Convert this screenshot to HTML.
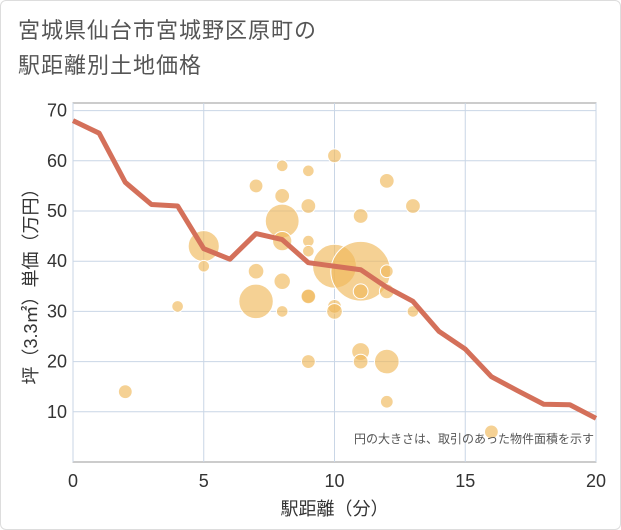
<!DOCTYPE html>
<html><head><meta charset="utf-8"><style>
html,body{margin:0;padding:0;background:#fff;}
body{width:621px;height:530px;overflow:hidden;font-family:"Liberation Sans","Noto Sans CJK JP",sans-serif;}
#frame{position:absolute;left:0;top:0;width:619px;height:528px;border:1px solid #ddd;border-radius:6px;}
#title{position:absolute;left:18px;top:13px;font-size:22px;line-height:35px;color:#555;letter-spacing:1px;}
</style></head><body>
<div id="frame"></div>
<div id="title">宮城県仙台市宮城野区原町の<br>駅距離別土地価格</div>
<svg id="chart" width="621" height="530" style="position:absolute;left:0;top:0"></svg>
<script>
const xTicks=[0,5,10,15,20];
const yTicks=[10,20,30,40,50,60,70];
const bubbleX=[2,4,5,5,7,7,7,8,8,8,8,8,8,9,9,9,9,9,9,9,10,10,10,10,11,11,11,11,11,12,12,12,12,12,13,13,16];
const bubbleY=[14,31,43,39,55,38,32,59,53,48,44,36,30,58,51,44,42,33,33,20,61,39,31,30,49,38,34,22,20,56,38,34,20,12,51,30,6];
const bubbleArea=[5,3,38,3,5,7,48,3,6,46,12,8,3,3,6,3,3,5,6,5,5,82,5,7,6,160,6,10,6,6,4,6,22,4,6,3,5];
const lineX=[0,1,2,3,4,5,6,7,8,9,10,11,12,13,14,15,16,17,18,19,20];
const lineY=[68,65.5,55.7,51.3,51,42.5,40.4,45.5,44.3,39.7,39,38.3,34.8,32,26,22.5,17,14.2,11.5,11.4,8.7];
const L=73,R=596,T=103,B=462;
const sx=v=>L+(v-0)/20*(R-L);
const sy=v=>462-(v)*5.02;
const NS="http://www.w3.org/2000/svg";
const svg=document.getElementById('chart');
function mk(t,a,p){const e=document.createElementNS(NS,t);for(const k in a)e.setAttribute(k,a[k]);(p||svg).appendChild(e);return e;}
const bg=mk('rect',{x:L,y:T,width:R-L,height:B-T,fill:'#fff',stroke:'#999','stroke-width':1});


xTicks.forEach(v=>{
 const g=mk('line',{x1:sx(v),x2:sx(v),y1:T,y2:B,stroke:'#c9d6e6','stroke-width':1});
 
 
 const t=mk('text',{x:sx(v),y:487,'text-anchor':'middle','font-size':18,fill:'#333'});
 t.textContent=v;
 
 
});
yTicks.forEach(v=>{
 const g=mk('line',{x1:L,x2:R,y1:sy(v),y2:sy(v),stroke:'#c9d6e6','stroke-width':1});
 
 
 const t=mk('text',{x:67,y:sy(v)+6,'text-anchor':'end','font-size':18,fill:'#333'});
 t.textContent=v;
 
 
});
bubbleX.forEach((x,i)=>{
 const c=mk('circle',{cx:sx(x),cy:sy(bubbleY[i]),r:Math.sqrt(bubbleArea[i])*2.2+2,fill:'#f0b85a','fill-opacity':0.65,stroke:'#fff','stroke-width':1});
 
 
});
const pl=mk('polyline',{points:lineX.map((x,i)=>sx(x)+','+sy(lineY[i])).join(' '),fill:'none',stroke:'#d4705a','stroke-width':5,'stroke-linejoin':'round'});


const note=mk('text',{x:594,y:443,'text-anchor':'end','font-size':12,fill:'#555'});
note.textContent='円の大きさは、取引のあった物件面積を示す';


const xt=mk('text',{x:(L+R)/2,y:515,'text-anchor':'middle','font-size':18,fill:'#333'});
xt.textContent='駅距離（分）';


const yt=mk('text',{x:0,y:0,'text-anchor':'middle','font-size':18,fill:'#333',transform:'translate(37,282) rotate(-90)'});
yt.textContent='坪（3.3㎡）単価（万円）';


</script>
</body></html>
